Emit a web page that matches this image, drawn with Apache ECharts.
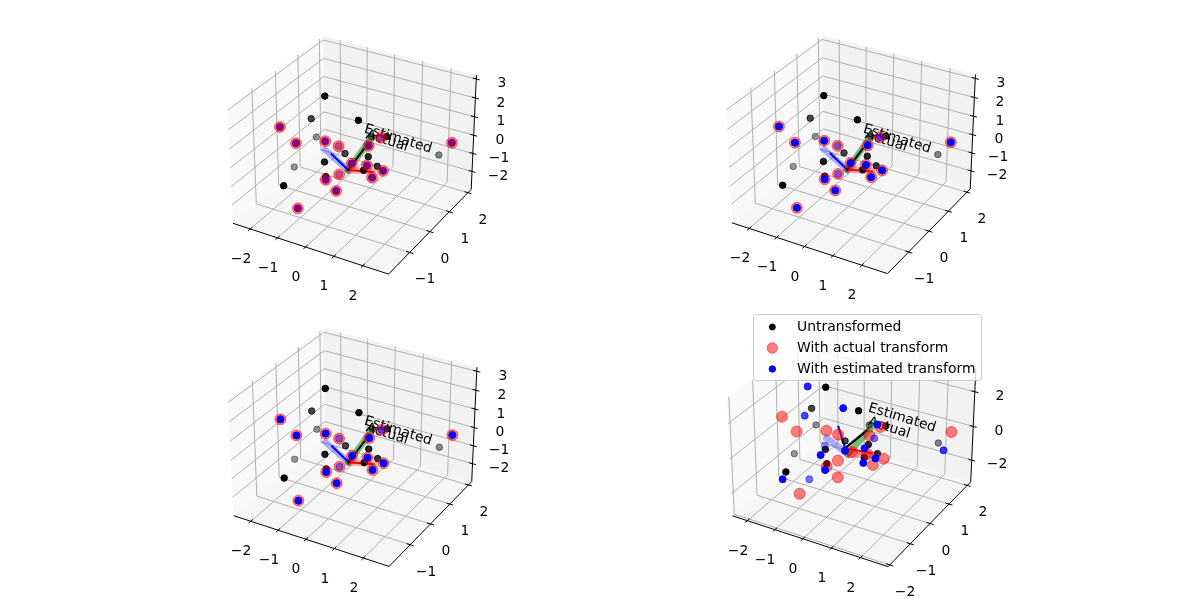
<!DOCTYPE html>
<html>
<head>
<meta charset="utf-8">
<script src="https://cdn.jsdelivr.net/npm/echarts@6/dist/echarts.min.js"></script>
<style>html,body{margin:0;background:#fff}#chart{width:1200px;height:600px}</style>
</head>
<body>
<div id="chart"></div>
<script>
// points as [x, y, z]
const untransformed = [[-0.13,-0.91,3.72],[-1.00,-0.44,1.77],[0.91,-0.77,2.79],[-1.54,0.44,-0.28],[0.16,-0.40,0.39],
  [1.05,-0.50,0.71],[0.08,-1.22,0.73],[1.23,-0.32,0.10],[1.28,-1.02,0.63],[0.49,-1.68,0.62],
  [-1.91,-0.14,-1.52],[-0.52,-2.24,0.27],[2.08,1.55,-0.80],[0.10,0.94,-0.05],[1.38,-0.09,1.50]];
const actual = [[-1.05,-1.71,2.53],[-0.52,-1.69,1.91],[0.21,-1.34,1.98],[-0.99,0.78,-0.89],[0.49,0.87,0.13],
  [3.35,0.24,1.70],[1.36,-0.90,1.81],[1.05,-1.26,1.12],[1.46,-1.11,1.05],[-0.75,0.49,-2.06],
  [1.91,-0.98,0.84],[1.68,-1.17,0.58],[0.51,-1.71,0.50],[0.86,-1.70,0.07],[0.01,-2.30,-0.60]];
// the last panel has other z limits, so it was read separately
const untransformed4 = [[-0.03,-0.93,3.97],[-0.92,-0.44,1.94],[0.98,-0.79,3.00],[-1.49,0.47,-0.18],[0.21,-0.38,0.55],
  [1.10,-0.49,0.88],[0.15,-1.21,0.92],[1.28,-0.30,0.25],[1.34,-1.01,0.82],[0.56,-1.68,0.81],
  [-1.85,-0.11,-1.45],[-0.42,-2.23,0.47],[2.11,1.60,-0.74],[0.09,0.95,0.05],[1.41,-0.10,1.66]];
const actual4 = [[-0.92,-1.73,2.76],[-0.44,-1.71,2.15],[0.31,-1.36,2.18],[-0.94,0.81,-0.85],[0.53,0.89,0.20],
  [3.38,0.25,1.88],[1.44,-0.91,1.98],[1.12,-1.28,1.30],[1.52,-1.12,1.21],[-0.74,0.53,-2.01],
  [1.97,-0.98,1.02],[1.74,-1.16,0.76],[0.58,-1.71,0.69],[0.94,-1.69,0.25],[0.09,-2.29,-0.43]];
const estimated4 = [[-0.91,-0.61,3.33],[-1.18,-0.43,1.40],[0.57,-0.94,3.11],[1.43,-0.53,2.19],[0.33,0.87,-0.53],
  [2.87,0.69,0.15],[-1.35,0.70,-1.58],[0.21,-1.50,0.93],[0.80,-1.17,1.11],[1.28,-0.92,1.21],
  [1.76,-1.07,1.03],[1.48,-1.25,0.84],[0.43,-1.59,0.30],[-0.45,-2.34,0.17],[-1.11,-0.36,-2.34]];

// coordinate frames: origin, then blue, green, red ends
const actualFrame = [[0.11,-0.19,-0.73],[-0.87,0.00,-0.27],[0.10,0.96,-0.09],[0.98,-0.18,-0.45]];
const nearBlueEnd = [-0.60,-0.04,-0.34];
const blackEnd = [0.17,0.47,-0.23];
const estimatedAt = [1.18,0.72,0.57];
const actualAt = [0.91,0.57,0.48];
const actualFrame4 = [[0.13,-0.14,-0.49],[-0.77,0.04,-0.19],[0.22,1.06,0.10],[1.05,-0.09,-0.16]];
const estimatedFrame4 = [[0.21,-0.38,0.13],[-0.54,0.30,0.32],[0.47,0.37,0.59],[0.95,-0.11,-0.08]];
const blackLine4 = [[0.00,-0.11,-0.25],[0.25,0.60,0.13]];
const estimatedAt4 = [1.27,0.89,1.12];
const actualAt4 = [1.01,0.64,0.69];

const xTicks = [-2,-1,0,1,2];
const yTicks = [-1,0,1,2];
const zTicks = [-2,-1,0,1,2,3];
const yTicks4 = [-2,-1,0,1,2];
const zTicks4 = [-2,0,2];
const limits = [[-2.64,2.87],[-2.0,2.18],[-3.01,3.21]];
const limits4 = [[-2.55,2.93],[-2.08,2.2],[-3.31,3.37]];

// same view as a default mplot3d axes: elev 30, azim -60, dist 10
const box = [1.1905,1.1905,0.8929];
const right = [0.866,0.5,0], up = [-0.25,0.433,0.866], back = [0.433,-0.75,0.5];
const dot = (a,b) => a[0]*b[0]+a[1]*b[1]+a[2]*b[2];
const centred = (p,lim) => p.map((v,i) => ((v-lim[i][0])/(lim[i][1]-lim[i][0])-0.5)*box[i]);
const project = (p,lim) => {
  const r = centred(p,lim), d = 10-dot(r,back);
  return [dot(r,right)/d, dot(r,up)/d];
};
const depth = (p,lim) => dot(centred(p,lim),back);

const SCALE = 1497;
const minus = v => String(v).replace('-','\u2212');
const font = '13.9px "DejaVu Sans"';
const series = [], grids = [], xAxes = [], yAxes = [];

function segments(idx, list, style) {
  series.push({
    type:'custom', xAxisIndex:idx, yAxisIndex:idx, silent:true, animation:false,
    encode:{x:[0,2],y:[1,3]},
    data:list,
    renderItem:(params,api) => {
      const a = api.coord([api.value(0),api.value(1)]), b = api.coord([api.value(2),api.value(3)]);
      return {type:'line', shape:{x1:a[0],y1:a[1],x2:b[0],y2:b[1]}, style:Object.assign({fill:null},style)};
    }
  });
}

function points(idx, pts, lim, color, size, fixedAlpha) {
  const ds = pts.map(p => depth(p,lim));
  const lo = Math.min(...ds), hi = Math.max(...ds);
  const items = pts.map((p,i) => ({
    value:project(p,lim), d:ds[i],
    itemStyle:{opacity:fixedAlpha || 0.4+0.6*(ds[i]-lo)/(hi-lo)}
  })).sort((a,b) => a.d-b.d);
  series.push({type:'scatter', xAxisIndex:idx, yAxisIndex:idx, clip:false, animation:false, silent:true,
    symbolSize:size, itemStyle:{color:color, borderColor:color, borderWidth:1}, data:items});
}

function labels(idx, items, offset, rotate) {
  series.push({type:'custom', xAxisIndex:idx, yAxisIndex:idx, silent:true, animation:false,
    encode:{x:0,y:1},
    data:items.map(t => t.at),
    renderItem:(params,api) => {
      const a = api.coord([api.value(0),api.value(1)]);
      return {type:'text', x:Math.round(a[0]+offset[0]), y:Math.round(a[1]+offset[1]), rotation:(rotate||0)*Math.PI/180,
        style:{text:items[params.dataIndex].text, fill:'#000', font:font, textAlign:'center', textVerticalAlign:'middle'}};
    }
  });
}

function frame(idx, lim, xs, ys, zs, zOffset) {
  const [[x0,x1],[y0,y1],[z0,z1]] = lim;
  const seg = (a,b) => project(a,lim).concat(project(b,lim));
  const pane = (cs,fill) => series.push({
    type:'custom', xAxisIndex:idx, yAxisIndex:idx, silent:true, animation:false,
    encode:{x:0,y:1}, data:[project(cs[0],lim)],
    renderItem:(params,api) => ({type:'polygon', shape:{points:cs.map(c => api.coord(project(c,lim)))}, style:{fill:fill}})
  });
  pane([[x0,y0,z0],[x0,y1,z0],[x0,y1,z1],[x0,y0,z1]],'#f9f9f9');
  pane([[x0,y1,z0],[x1,y1,z0],[x1,y1,z1],[x0,y1,z1]],'#f2f2f2');
  pane([[x0,y0,z0],[x1,y0,z0],[x1,y1,z0],[x0,y1,z0]],'#f6f6f6');

  const gridLines = [];
  xs.forEach(x => gridLines.push(seg([x,y0,z0],[x,y1,z0]), seg([x,y1,z0],[x,y1,z1])));
  ys.forEach(y => gridLines.push(seg([x1,y,z0],[x0,y,z0]), seg([x0,y,z0],[x0,y,z1])));
  zs.forEach(z => gridLines.push(seg([x0,y0,z],[x0,y1,z]), seg([x0,y1,z],[x1,y1,z])));
  segments(idx, gridLines, {stroke:'#b0b0b0', lineWidth:1});

  const dx = (x1-x0)*0.022, dy = (y1-y0)*0.022;
  const axisLines = [seg([x0,y0,z0],[x1,y0,z0]), seg([x1,y0,z0],[x1,y1,z0]), seg([x1,y1,z0],[x1,y1,z1])];
  xs.forEach(x => axisLines.push(seg([x,y0-dy,z0],[x,y0+dy,z0])));
  ys.forEach(y => axisLines.push(seg([x1+dx,y,z0],[x1-dx,y,z0])));
  zs.forEach(z => axisLines.push(seg([x1+dx,y1,z],[x1-dx,y1,z])));
  segments(idx, axisLines, {stroke:'#000', lineWidth:1});

  labels(idx, xs.map(x => ({at:project([x,y0,z0],lim), text:minus(x)})), [-9.5,30]);
  labels(idx, ys.map(y => ({at:project([x1,y,z0],lim), text:minus(y)})), [15.5,27]);
  labels(idx, zs.map(z => ({at:project([x1,y1,z],lim), text:minus(z)})), zOffset);
}

function addPanel(idx, ox, oy) {
  // the plane of the projection goes through a plain hidden value axis pair
  grids.push({left:ox+354.3-0.1*SCALE, top:oy+149.4-0.098*SCALE, width:0.2*SCALE, height:0.196*SCALE, containLabel:false});
  xAxes.push({type:'value', gridIndex:idx, min:-0.1, max:0.1, show:false});
  yAxes.push({type:'value', gridIndex:idx, min:-0.098, max:0.098, show:false});
}

const pale = (color,alpha) => ({stroke:color, lineWidth:6.5, opacity:alpha, lineCap:'square'});
const thin = color => ({stroke:color, lineWidth:2, lineCap:'square'});

function nearPanel(idx, ox, oy, blueOnTop) {
  addPanel(idx, ox, oy);
  const lim = limits;
  const seg = (a,b) => project(a,lim).concat(project(b,lim));
  const [o,b,g,r] = actualFrame;
  frame(idx, lim, xTicks, yTicks, zTicks, [26,4.5]);
  segments(idx, [seg(o,b)], pale('#0000ff',0.3));
  segments(idx, [seg(o,g)], pale('#008000',0.5));
  segments(idx, [seg(o,r)], pale('#ff0000',0.3));
  segments(idx, [seg(o,nearBlueEnd)], thin('#0000ff'));
  segments(idx, [seg(o,r)], thin('#ff0000'));
  segments(idx, [seg(o,blackEnd)], thin('#000'));
  labels(idx, [{at:project(estimatedAt,lim), text:'Estimated'}], [0,1.5], -17);
  labels(idx, [{at:project(actualAt,lim), text:'Actual'}], [0,1.5], -17);
  points(idx, untransformed, lim, '#000', 6.5);
  if (blueOnTop) {
    points(idx, actual, lim, '#ff0000', 11, 0.5);
    points(idx, actual, lim, '#0000ff', 7);
  } else {
    points(idx, actual, lim, '#0000ff', 7);
    points(idx, actual, lim, '#ff0000', 11, 0.5);
  }
}

function farPanel(idx, ox, oy) {
  addPanel(idx, ox, oy);
  const lim = limits4;
  const seg = (a,b) => project(a,lim).concat(project(b,lim));
  const [o,b,g,r] = actualFrame4;
  const [eo,eb,eg,er] = estimatedFrame4;
  frame(idx, lim, xTicks, yTicks4, zTicks4, [25.5,4.2]);
  labels(idx, [{at:project(estimatedAt4,lim), text:'Estimated'}], [0,1.5], -17);
  labels(idx, [{at:project(actualAt4,lim), text:'Actual'}], [0,1.5], -17);
  segments(idx, [seg(o,b)], pale('#0000ff',0.3));
  segments(idx, [seg(o,g)], pale('#008000',0.5));
  points(idx, untransformed4, lim, '#000', 6.5);
  points(idx, actual4, lim, '#ff0000', 11, 0.5);
  points(idx, estimated4, lim, '#0000ff', 7);
  segments(idx, [seg(o,r)], pale('#ff0000',0.3));
  segments(idx, [seg(eo,eb)], thin('#0000ff'));
  segments(idx, [seg(eo,eg)], thin('#008000'));
  segments(idx, [seg(eo,er)], thin('#ff0000'));
  segments(idx, [seg(blackLine4[0],blackLine4[1])], thin('#000'));
}

nearPanel(0, 0, 0, false);
nearPanel(1, 499, -0.5, true);
nearPanel(2, 0.5, 292.3, true);
farPanel(3, 499.5, 292.5);

const legendRow = (y,text,color,r,alpha) => [
  {type:'circle', z:101, silent:true, shape:{cx:772.3,cy:y,r:r}, style:{fill:color,stroke:color,lineWidth:1,opacity:alpha}},
  {type:'text', z:101, silent:true, x:797, y:y, style:{text:text,fill:'#000',font:font,textVerticalAlign:'middle'}}
];

const chart = echarts.init(document.getElementById('chart'), null, {renderer:'canvas'});
chart.setOption({
  backgroundColor:'#fff',
  animation:false,
  grid:grids, xAxis:xAxes, yAxis:yAxes,
  series:series,
  graphic:{elements:[
    {type:'rect', z:100, silent:true, shape:{x:753.5,y:314.5,width:228,height:66,r:3}, style:{fill:'rgba(255,255,255,0.8)',stroke:'#cccccc',lineWidth:1}},
    ...legendRow(327,'Untransformed','#000',3,1),
    ...legendRow(348,'With actual transform','#ff0000',5.2,0.5),
    ...legendRow(369,'With estimated transform','#0000ff',3.2,1)
  ]}
});
</script>
</body>
</html>
